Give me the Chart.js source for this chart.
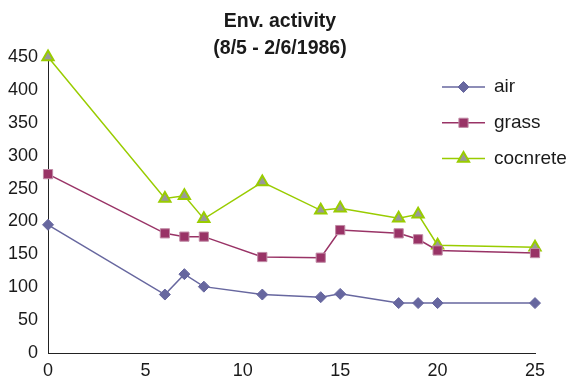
<!DOCTYPE html>
<html>
<head>
<meta charset="utf-8">
<script src="https://cdn.jsdelivr.net/npm/chart.js@4"></script>
<style>
  html, body { margin: 0; padding: 0; background: #fff; }
  #wrap { width: 574px; height: 377px; }
</style>
</head>
<body>
<div id="wrap"><canvas id="c" width="574" height="377"></canvas></div>
<script>
// Sampling days and measured activity per surface
const days     = [0, 6, 7, 8, 11, 14, 15, 18, 19, 20, 25];
const air      = [195, 89, 120, 101, 89, 85, 90, 76, 76, 76, 76];
const grass    = [272, 182, 177, 177, 146, 145, 187, 182, 173, 156, 152];
const concrete = [450, 235, 239, 204, 260, 217, 220, 205, 211, 164, 161];

const seriesNames = ['air', 'grass', 'cocnrete'];
const titleLines = ['Env. activity', '(8/5 - 2/6/1986)'];
const xTicks = [0, 5, 10, 15, 20, 25];
const yTicks = [0, 50, 100, 150, 200, 250, 300, 350, 400, 450];

const FONT = '"Liberation Sans", Arial, Helvetica, sans-serif';

function pts(values) {
  return days.map((d, i) => ({ x: d, y: values[i] }));
}

const datasets = [
  {
    label: seriesNames[0], data: pts(air), clip: false,
    borderColor: '#67679f', backgroundColor: '#67679f', borderWidth: 1.5,
    pointStyle: 'rectRot', pointRadius: 5.5, pointBorderWidth: 1,
    pointBackgroundColor: '#67679f', pointBorderColor: '#67679f'
  },
  {
    label: seriesNames[1], data: pts(grass), clip: false,
    borderColor: '#993366', backgroundColor: '#993366', borderWidth: 1.5,
    pointStyle: 'rect', pointRadius: 6.5, pointBorderWidth: 1,
    pointBackgroundColor: '#993366', pointBorderColor: '#c08aa5'
  },
  {
    label: seriesNames[2], data: pts(concrete), clip: false,
    borderColor: '#99cc00', backgroundColor: '#99cc00', borderWidth: 1.5,
    pointStyle: 'triangle', pointRadius: 6.5, pointBorderWidth: 2,
    pointBackgroundColor: '#999999', pointBorderColor: '#99cc00'
  }
];

// Marker shapes for the legend keys
function drawMarker(ctx, ds, x, y) {
  const r = ds.pointRadius;
  ctx.save();
  ctx.fillStyle = ds.pointBackgroundColor;
  ctx.strokeStyle = ds.pointBorderColor;
  ctx.lineWidth = ds.pointBorderWidth;
  ctx.beginPath();
  if (ds.pointStyle === 'rectRot') {
    ctx.moveTo(x, y - r); ctx.lineTo(x + r, y); ctx.lineTo(x, y + r); ctx.lineTo(x - r, y);
  } else if (ds.pointStyle === 'rect') {
    const s = Math.SQRT1_2 * r;
    ctx.rect(x - s, y - s, 2 * s, 2 * s);
  } else {
    const a = 2 * Math.PI / 3;
    for (let k = 0; k < 3; k++) {
      const px = x + Math.sin(k * a) * r, py = y - Math.cos(k * a) * r;
      k === 0 ? ctx.moveTo(px, py) : ctx.lineTo(px, py);
    }
  }
  ctx.closePath();
  ctx.fill();
  ctx.stroke();
  ctx.restore();
}

const decorations = {
  id: 'decorations',
  afterDraw(chart) {
    const ctx = chart.ctx;
    ctx.save();
    // title
    ctx.fillStyle = '#1a1a1a';
    ctx.font = 'bold 19.5px ' + FONT;
    ctx.textAlign = 'center';
    ctx.textBaseline = 'middle';
    titleLines.forEach((t, i) => ctx.fillText(t, 280, 22 + i * 26.5));
    // legend
    ctx.font = '19px ' + FONT;
    ctx.textAlign = 'left';
    chart.data.datasets.forEach((ds, i) => {
      const y = 87 + i * 35.8;
      ctx.strokeStyle = ds.borderColor;
      ctx.lineWidth = ds.borderWidth;
      ctx.beginPath();
      ctx.moveTo(442, y);
      ctx.lineTo(485, y);
      ctx.stroke();
      drawMarker(ctx, ds, 463.5, y);
      ctx.fillStyle = '#1a1a1a';
      ctx.fillText(ds.label, 494, y);
    });
    ctx.restore();
  }
};

new Chart(document.getElementById('c'), {
  type: 'line',
  data: { datasets },
  options: {
    responsive: false,
    animation: false,
    devicePixelRatio: 1,
    layout: { padding: { top: 57, left: -2, right: 39, bottom: -11.5 } },
    plugins: { legend: { display: false }, title: { display: false }, tooltip: { enabled: false } },
    elements: { line: { tension: 0 } },
    scales: {
      x: {
        type: 'linear', min: 0, max: 25,
        afterBuildTicks(s) { s.ticks = xTicks.map(v => ({ value: v })); },
        grid: { display: false, drawTicks: false },
        border: { display: true, color: '#222', width: 1 },
        ticks: { color: '#1a1a1a', padding: 10.5, font: { family: FONT, size: 18, lineHeight: 0.8 } }
      },
      y: {
        min: 0, max: 450,
        afterBuildTicks(s) { s.ticks = yTicks.map(v => ({ value: v })); },
        grid: { display: false, drawTicks: false },
        border: { display: true, color: '#222', width: 1 },
        ticks: { color: '#1a1a1a', padding: 10, font: { family: FONT, size: 18 } }
      }
    }
  },
  plugins: [decorations]
});
</script>
</body>
</html>
